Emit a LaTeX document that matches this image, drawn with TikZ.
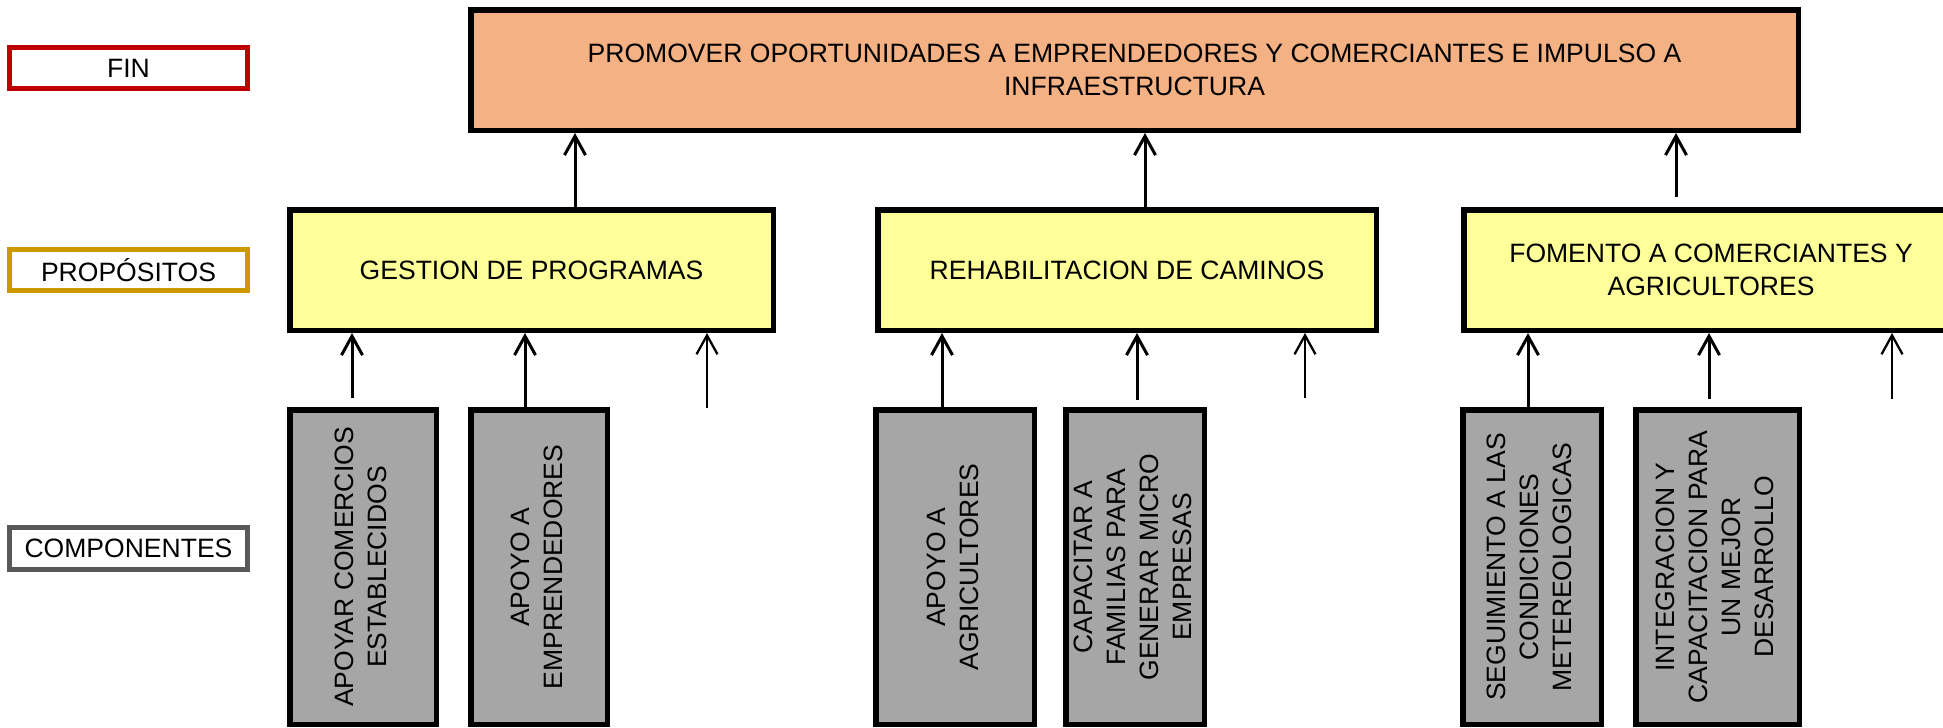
\documentclass[tikz,border=0pt]{standalone}
\usepackage{fontspec}
\setmainfont{Liberation Sans}
\usepackage{graphicx}
\usetikzlibrary{arrows.meta}
\definecolor{finred}{RGB}{192,0,0}
\definecolor{propgold}{RGB}{204,153,0}
\definecolor{compgray}{RGB}{89,89,89}
\definecolor{salmon}{RGB}{244,177,131}
\definecolor{lightyellow}{RGB}{255,255,153}
\definecolor{boxgray}{RGB}{166,166,166}
\tikzset{
	every node/.style={font=\fontsize{15.1}{18.8}\selectfont},
	tag/.style={draw, rectangle, line width=0.10cm, fill=white, minimum width=4.76cm, minimum height=0.82cm, inner sep=0pt},
	level/.style={draw, rectangle, line width=0.11cm, inner sep=0pt, align=center},
	edge/.style={-{Straight Barb[length=0.38cm,width=0.42cm]}, line width=0.06cm},
	freeedge/.style={edge, line width=0.045cm}
}
\newcommand{\vtext}[1]{\rotatebox{90}{\begin{tabular}{@{}c@{}}#1\end{tabular}}}

\begin{document}
\begin{tikzpicture}
	\useasboundingbox (0,0) rectangle (38.86,-14.54);
	
	% row labels
	\node(fin) at (2.57,-1.36) [tag, draw=finred] {FIN};
	\node(prop) at (2.57,-5.40) [tag, draw=propgold] {PROPÓSITOS};
	\node(comp) at (2.57,-10.97) [tag, draw=compgray, minimum height=0.84cm] {COMPONENTES};
	
	\node(goal) at (22.69,-1.40) [level, fill=salmon, minimum width=26.55cm, minimum height=2.41cm] {PROMOVER OPORTUNIDADES A EMPRENDEDORES Y COMERCIANTES E IMPULSO A\\INFRAESTRUCTURA};
	
	\node(gestion) at (10.63,-5.40) [level, fill=lightyellow, minimum width=9.67cm, minimum height=2.41cm] {GESTION DE PROGRAMAS};
	\node(caminos) at (22.54,-5.40) [level, fill=lightyellow, minimum width=9.97cm, minimum height=2.41cm] {REHABILITACION DE CAMINOS};
	\node(fomento) at (34.22,-5.40) [level, fill=lightyellow, minimum width=9.89cm, minimum height=2.41cm] {FOMENTO A COMERCIANTES Y\\AGRICULTORES};
	
	\node(comercios) at (7.26,-11.34) [level, fill=boxgray, minimum width=2.93cm, minimum height=6.29cm] {\vtext{APOYAR COMERCIOS\\ESTABLECIDOS}};
	\node(emprend) at (10.78,-11.34) [level, fill=boxgray, minimum width=2.73cm, minimum height=6.29cm] {\vtext{APOYO A\\EMPRENDEDORES}};
	\node(agric) at (19.10,-11.34) [level, fill=boxgray, minimum width=3.17cm, minimum height=6.29cm] {\vtext{APOYO A\\AGRICULTORES}};
	\node(familias) at (22.70,-11.34) [level, fill=boxgray, minimum width=2.77cm, minimum height=6.29cm] {\vtext{CAPACITAR A\\FAMILIAS PARA\\GENERAR MICRO\\EMPRESAS}};
	\node(clima) at (30.64,-11.34) [level, fill=boxgray, minimum width=2.77cm, minimum height=6.29cm] {\vtext{SEGUIMIENTO A LAS\\CONDICIONES\\METEREOLOGICAS}};
	\node(integra) at (34.35,-11.34) [level, fill=boxgray, minimum width=3.27cm, minimum height=6.29cm] {\vtext{INTEGRACION Y\\CAPACITACION PARA\\UN MEJOR\\DESARROLLO}};
	
	% arrow columns and loose tails
	\coordinate(a1) at (11.50,0);
	\coordinate(a2) at (22.90,0);
	\coordinate(a3) at (33.52,-3.94);
	\coordinate(b1) at (7.04,-7.96);
	\coordinate(b2) at (10.50,0);
	\coordinate(b3) at (14.14,-8.16);
	\coordinate(b4) at (18.84,0);
	\coordinate(b5) at (22.74,-8.00);
	\coordinate(b6) at (26.10,-7.96);
	\coordinate(b7) at (30.56,0);
	\coordinate(b8) at (34.18,-7.98);
	\coordinate(b9) at (37.84,-7.98);
	
	\draw[edge] (gestion.north -| a1) -- (goal.south -| a1);
	\draw[edge] (caminos.north -| a2) -- (goal.south -| a2);
	\draw[edge] (a3) -- (goal.south -| a3);
	
	\draw[edge] (b1) -- (gestion.south -| b1);
	\draw[edge] (emprend.north -| b2) -- (gestion.south -| b2);
	\draw[freeedge] (b3) -- (gestion.south -| b3);
	\draw[edge] (agric.north -| b4) -- (caminos.south -| b4);
	\draw[edge] (b5) -- (caminos.south -| b5);
	\draw[freeedge] (b6) -- (caminos.south -| b6);
	\draw[edge] (clima.north -| b7) -- (fomento.south -| b7);
	\draw[edge] (b8) -- (fomento.south -| b8);
	\draw[freeedge] (b9) -- (fomento.south -| b9);
\end{tikzpicture}
\end{document}
